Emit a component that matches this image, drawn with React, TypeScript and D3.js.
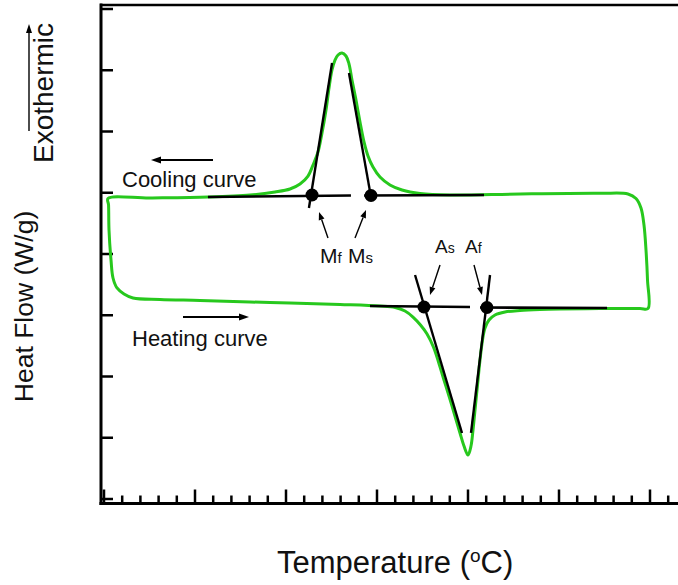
import React from 'react';
import * as d3 from 'd3';

const WIDTH = 678;
const HEIGHT = 585;

// Temperature in minor-tick units (major tick every 5), heat flow in major-tick units.
// Heating run, left to right, along the lower branch with the endothermic dip.
const heatingCurve: [number, number][] = [
  [1.593, 3.282], [3.077, 3.257], [5.275, 3.241], [8.022, 3.216], [10.22, 3.2],
  [12.97, 3.176], [15.165, 3.151], [16.0, 3.127], [16.538, 3.069], [16.978, 2.971],
  [17.39, 2.841], [17.75, 2.694], [18.1, 2.482], [18.38, 2.237], [18.68, 1.943],
  [18.99, 1.649], [19.3, 1.339], [19.56, 1.078], [19.78, 0.865], [20.0, 0.718],
  [20.165, 0.865], [20.275, 1.127], [20.385, 1.453], [20.522, 1.861], [20.659, 2.269],
  [20.797, 2.596], [20.934, 2.792], [21.154, 2.922], [21.484, 3.004], [22.033, 3.053],
  [22.857, 3.078], [23.956, 3.094], [25.055, 3.102], [27.25, 3.11], [29.45, 3.11],
  [29.89, 3.11],
];

// Cooling run, right to left, along the upper branch with the exothermic peak,
// then the drop back to the heating branch at the low-temperature end.
const coolingCurve: [number, number][] = [
  [29.863, 3.576], [29.78, 4.065], [29.67, 4.473], [29.505, 4.751], [29.23, 4.906],
  [28.79, 4.98], [27.25, 4.99], [22.86, 4.98], [19.01, 4.963], [17.363, 4.988],
  [16.374, 5.045], [15.714, 5.127], [15.165, 5.257], [14.78, 5.42], [14.505, 5.6],
  [14.286, 5.829], [14.066, 6.155], [13.846, 6.514], [13.626, 6.841], [13.462, 7.102],
  [13.297, 7.233], [13.077, 7.282], [12.857, 7.249], [12.692, 7.167], [12.527, 7.004],
  [12.363, 6.71], [12.198, 6.351], [11.978, 5.976], [11.758, 5.665], [11.484, 5.453],
  [11.209, 5.273], [10.769, 5.143], [10.22, 5.061], [9.396, 5.012], [8.02, 4.963],
  [5.71, 4.931], [2.53, 4.914], [0.22, 4.906], [0.25, 4.8], [0.275, 4.392],
  [0.385, 3.902], [0.495, 3.608], [0.714, 3.445], [1.099, 3.347],
];

// Extrapolated baselines on either side of each transformation.
const baselineSegments: [number, number][][] = [
  [[5.71, 4.931], [13.57, 4.955]],
  [[14.29, 4.955], [20.88, 4.963]],
  [[14.615, 3.151], [20.11, 3.135]],
  [[20.66, 3.127], [27.64, 3.118]],
];

// Tangents drawn along the steepest flanks of the peak and the dip.
const tangentSegments: [number, number][][] = [
  [[11.26, 4.751], [12.53, 7.118]],
  [[13.46, 6.955], [14.7, 4.88]],
  [[17.09, 3.657], [19.67, 1.078]],
  [[21.21, 3.657], [20.165, 1.078]],
];

// Transformation temperatures: martensite finish/start, austenite start/finish.
const transformationNames = ['M', 'M', 'A', 'A'];
const transformationSubs = ['f', 's', 's', 'f'];
const transformationPoints: [number, number][] = [
  [11.43, 4.963], [14.67, 4.955], [17.58, 3.135], [21.04, 3.127],
];

const xTicks = d3.range(0, 32);
const yTicks = d3.range(0, 9);

const x = d3.scaleLinear().domain([0, 30]).range([104, 650]);
const y = d3.scaleLinear().domain([0, 8]).range([499, 9]);

const FONT = '"Liberation Sans", Arial, Helvetica, sans-serif';
const GREEN = '#27c81d';

const loopPath = d3
  .line<[number, number]>()
  .x((d) => x(d[0]))
  .y((d) => y(d[1]))
  .curve(d3.curveCatmullRomClosed.alpha(0.5))([...heatingCurve, ...coolingCurve]);

const segPath = d3
  .line<[number, number]>()
  .x((d) => x(d[0]))
  .y((d) => y(d[1]));

// label placement for each transformation point (pixel layout)
const labelLayout = [
  { tx: 320, ty: 263, size: 21, sub: 15, arrow: [328, 238, 319, 212] },
  { tx: 348, ty: 263, size: 21, sub: 15, arrow: [355, 238, 366, 210] },
  { tx: 435, ty: 253, size: 19, sub: 14, arrow: [440, 265, 430, 295] },
  { tx: 465, ty: 253, size: 19, sub: 14, arrow: [474, 265, 482, 295] },
];

function Arrow({ x1, y1, x2, y2, w, head, hw }: { x1: number; y1: number; x2: number; y2: number; w: number; head: number; hw: number }) {
  const ang = Math.atan2(y2 - y1, x2 - x1);
  const bx = x2 - head * Math.cos(ang);
  const by = y2 - head * Math.sin(ang);
  const px = -Math.sin(ang) * hw;
  const py = Math.cos(ang) * hw;
  return (
    <g>
      <line x1={x1} y1={y1} x2={bx} y2={by} stroke="#000" strokeWidth={w} />
      <path d={`M${x2},${y2}L${bx + px},${by + py}L${bx - px},${by - py}Z`} fill="#000" />
    </g>
  );
}

export default function App() {
  return (
    <div style={{ position: 'absolute', left: 0, top: 0 }}>
      <svg width={WIDTH} height={HEIGHT} style={{ display: 'block', background: '#fff' }}>
        {/* frame */}
        <line x1={101} y1={3.5} x2={101} y2={505} stroke="#000" strokeWidth={3} />
        <line x1={100} y1={5} x2={WIDTH} y2={5} stroke="#000" strokeWidth={2.5} />
        <line x1={99.5} y1={503.5} x2={WIDTH} y2={503.5} stroke="#000" strokeWidth={3} />

        {/* left ticks, pointing inward */}
        {yTicks.map((t) => (
          <line key={`y${t}`} x1={101} x2={113} y1={y(t)} y2={y(t)} stroke="#000" strokeWidth={2.5} />
        ))}
        {/* bottom ticks, major every five */}
        {xTicks.map((t) => (
          <line
            key={`x${t}`}
            x1={x(t)}
            x2={x(t)}
            y1={503}
            y2={t % 5 === 0 ? 489.5 : 495.5}
            stroke="#000"
            strokeWidth={2.5}
          />
        ))}

        {/* heat-flow loop */}
        <path d={loopPath ?? ''} fill="none" stroke={GREEN} strokeWidth={3} strokeLinejoin="round" />

        {/* baselines and tangents */}
        {baselineSegments.map((s, i) => (
          <path key={`b${i}`} d={segPath(s) ?? ''} stroke="#000" strokeWidth={2.6} fill="none" />
        ))}
        {tangentSegments.map((s, i) => (
          <path key={`t${i}`} d={segPath(s) ?? ''} stroke="#000" strokeWidth={2.4} fill="none" />
        ))}
        {transformationPoints.map((p, i) => (
          <circle key={`c${i}`} cx={x(p[0])} cy={y(p[1])} r={6.5} fill="#000" />
        ))}

        {/* transformation labels */}
        {labelLayout.map((l, i) => (
          <g key={`l${i}`}>
            <text x={l.tx} y={l.ty} fontFamily={FONT} fontSize={l.size} fill="#111">
              {transformationNames[i]}
              <tspan fontSize={l.sub}>{transformationSubs[i]}</tspan>
            </text>
            <Arrow x1={l.arrow[0]} y1={l.arrow[1]} x2={l.arrow[2]} y2={l.arrow[3]} w={1.4} head={8} hw={3} />
          </g>
        ))}

        {/* run direction notes */}
        <Arrow x1={213} y1={160} x2={151} y2={160} w={2} head={10} hw={3.5} />
        <text x={122} y={187} fontFamily={FONT} fontSize={22} fill="#111">Cooling curve</text>
        <Arrow x1={183} y1={317} x2={249} y2={317} w={2} head={10} hw={3.5} />
        <text x={132} y={346} fontFamily={FONT} fontSize={22} fill="#111">Heating curve</text>

        {/* axis titles */}
        <Arrow x1={29} y1={131} x2={29} y2={24} w={1.4} head={9} hw={3} />
        <text
          transform="translate(53,93) rotate(-90)"
          textAnchor="middle"
          fontFamily={FONT}
          fontSize={28}
          fill="#111"
        >
          Exothermic
        </text>
        <text
          transform="translate(33,306.5) rotate(-90)"
          textAnchor="middle"
          fontFamily={FONT}
          fontSize={26.5}
          fill="#111"
        >
          Heat Flow (W/g)
        </text>
        <text x={277} y={573} fontFamily={FONT} fontSize={31} fill="#111">
          Temperature (
          <tspan fontSize={19} dy={-11}>o</tspan>
          <tspan dy={11}>C)</tspan>
        </text>
      </svg>
    </div>
  );
}
